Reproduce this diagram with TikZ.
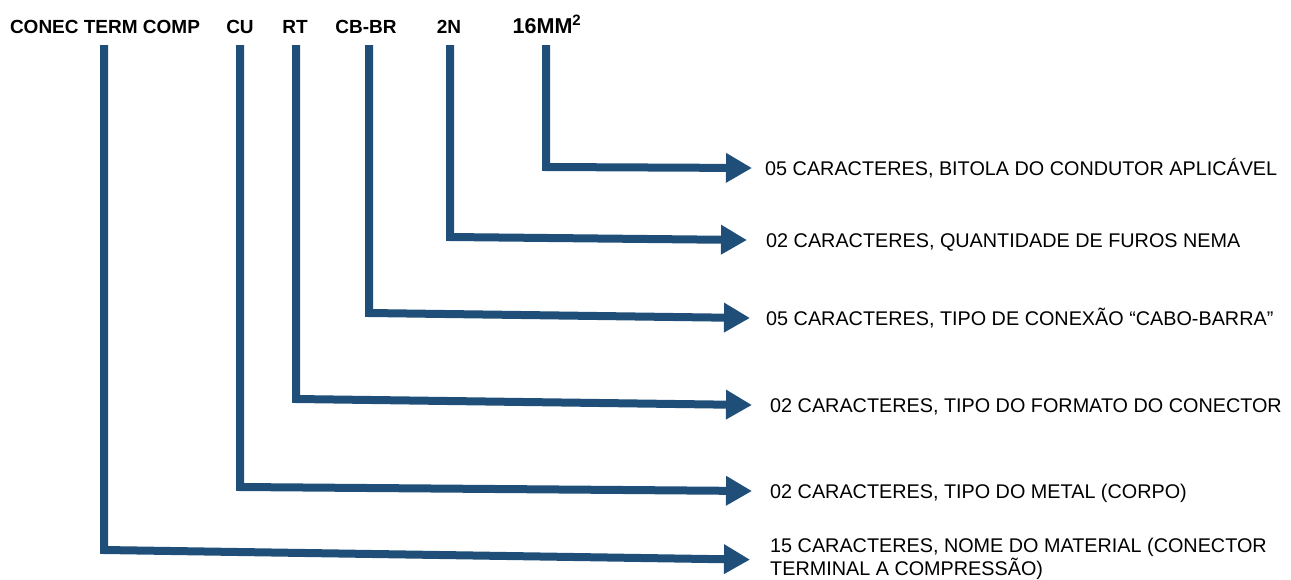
\documentclass[tikz,border=0pt]{standalone}
\usepackage{fontspec}
\setmainfont{Liberation Sans}
\usetikzlibrary{arrows.meta}
\definecolor{codeblue}{HTML}{1F4E79}

\begin{document}
\begin{tikzpicture}[x=1pt,y=-1pt,
  code/.style={font=\bfseries\fontsize{19}{22}\selectfont, inner sep=0pt, anchor=base},
  desc/.style={font=\fontsize{19.8}{19.5}\selectfont, inner sep=0pt, anchor=west,
    align=left, text height=14pt, text depth=0pt},
  conn/.style={draw=codeblue, line width=8pt, line join=miter,
    -{Triangle[length=26pt,width=28pt]}}]
  \useasboundingbox (0,0) rectangle (1291,579);

  % parts of the code
  \node[code] (mat) at (105,33) {CONEC TERM COMP};
  \node[code] (cu) at (240,33) {CU};
  \node[code] (rt) at (295,33) {RT};
  \node[code] (cbbr) at (366,33) {CB-BR};
  \node[code] (nema) at (449,33) {2N};
  \node[code,font=\bfseries\fontsize{21.5}{24}\selectfont] (mm) at (547,33) {16MM\textsuperscript{2}};

  % meanings
  \node[desc] (dmm) at (765,168) {05 CARACTERES, BITOLA DO CONDUTOR APLICÁVEL};
  \node[desc] (dnema) at (766,240) {02 CARACTERES, QUANTIDADE DE FUROS NEMA};
  \node[desc] (dcbbr) at (766,318) {05 CARACTERES, TIPO DE CONEXÃO “CABO-BARRA”};
  \node[desc] (drt) at (770,405) {02 CARACTERES, TIPO DO FORMATO DO CONECTOR};
  \node[desc] (dcu) at (770,491) {02 CARACTERES, TIPO DO METAL (CORPO)};
  \node[desc,text height=,anchor=north west] (dmat) at (770,538)
    {15 CARACTERES, NOME DO MATERIAL (CONECTOR\\TERMINAL A COMPRESSÃO)};

  % connectors
  \draw[conn] ([shift={(-1pt,-12pt)}]mm.base) -- ++(0,122) -- ([xshift=-13pt]dmm.west);
  \draw[conn] ([shift={(1pt,-12pt)}]nema.base) -- ++(0,192) -- ([xshift=-19pt]dnema.west);
  \draw[conn] ([shift={(3pt,-12pt)}]cbbr.base) -- ++(0,268) -- ([xshift=-16pt]dcbbr.west);
  \draw[conn] ([shift={(1pt,-12pt)}]rt.base) -- ++(0,354) -- ([xshift=-18pt]drt.west);
  \draw[conn] ([yshift=-12pt]cu.base) -- ++(0,442) -- ([xshift=-18pt]dcu.west);
  \draw[conn] ([shift={(-1pt,-12pt)}]mat.base) -- ++(0,505) -- ([shift={(-20pt,-3pt)}]dmat.west);
\end{tikzpicture}
\end{document}
